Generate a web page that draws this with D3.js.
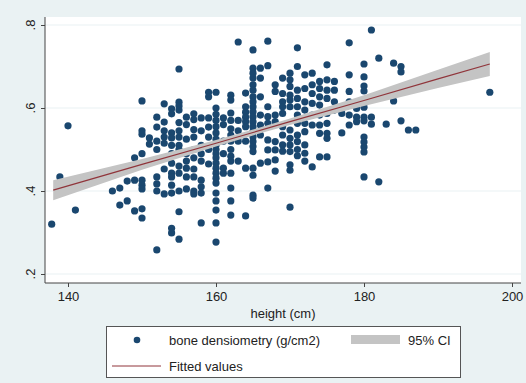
<!DOCTYPE html>
<html>
<head>
<meta charset="utf-8">
<script src="https://cdnjs.cloudflare.com/ajax/libs/d3/7.8.5/d3.min.js"></script>
<style>
body{margin:0;padding:0;background:#eaf2f3;}
text{font-family:"Liberation Sans", Arial, sans-serif;fill:#222;}
</style>
</head>
<body>
<div id="svg"></div>
<script>
// scatter columns: height (cm) and the bone densities read at that height
var heights = [137.8,138.9,140,141,146,147,148,149,150,151,152,153,154,155,156,157,158,159,160,
    161,162,163,164,165,166,167,168,169,170,171,172,173,174,175,176,177,178,179,180,181,182,183,
    184,185,186,187,197];
var densities = [
    [0.32],
    [0.434],
    [0.557],
    [0.354],
    [0.40],
    [0.407,0.366],
    [0.424,0.376],
    [0.48,0.426,0.352],
    [0.617,0.545,0.537,0.49,0.426,0.414,0.405,0.357,0.335],
    [0.528,0.513,0.47],
    [0.578,0.554,0.52,0.50,0.434,0.417,0.40,0.258],
    [0.61,0.566,0.545,0.53,0.515,0.453,0.393],
    [0.598,0.586,0.54,0.528,0.51,0.49,0.467,0.443,0.434,0.414,0.395,0.31,0.299],
    [0.694,0.614,0.605,0.595,0.565,0.545,0.53,0.51,0.50,0.46,0.443,0.40,0.35,0.284],
    [0.578,0.56,0.525,0.49,0.472,0.455,0.434,0.405],
    [0.586,0.572,0.548,0.53,0.50,0.48,0.453,0.434,0.40,0.393],
    [0.576,0.545,0.51,0.49,0.472,0.426,0.41,0.395,0.323],
    [0.638,0.627,0.576,0.554,0.53,0.50,0.465],
    [0.638,0.60,0.585,0.57,0.555,0.54,0.525,0.51,0.50,0.49,0.48,0.467,0.455,0.443,0.431,0.419,0.395,0.376,0.354,0.323,0.277],
    [0.576,0.56,0.52,0.49,0.455,0.443],
    [0.631,0.619,0.588,0.57,0.55,0.535,0.52,0.50,0.484,0.472,0.443,0.407,0.376,0.342],
    [0.759,0.57,0.545,0.52,0.472],
    [0.636,0.603,0.59,0.578,0.567,0.555,0.52,0.455,0.34],
    [0.74,0.696,0.684,0.672,0.656,0.643,0.627,0.615,0.603,0.591,0.579,0.567,0.555,0.543,0.531,0.519,0.507,0.495,0.455,0.438,0.39,0.383],
    [0.696,0.672,0.627,0.583,0.559,0.535,0.467],
    [0.761,0.702,0.603,0.579,0.563,0.523,0.499,0.47,0.407],
    [0.656,0.64,0.583,0.567,0.519,0.499,0.475,0.448],
    [0.672,0.635,0.615,0.603,0.587,0.555,0.535,0.511,0.496],
    [0.684,0.668,0.652,0.631,0.619,0.603,0.547,0.527,0.511,0.495,0.463,0.45,0.361],
    [0.745,0.70,0.643,0.623,0.603,0.583,0.563,0.535,0.519,0.50,0.485],
    [0.68,0.647,0.615,0.595,0.563,0.543,0.511,0.491,0.472],
    [0.684,0.656,0.635,0.611,0.583,0.559,0.458],
    [0.664,0.647,0.627,0.607,0.583,0.559,0.539,0.482],
    [0.704,0.668,0.643,0.623,0.587,0.563,0.539,0.527,0.482],
    [0.664,0.643,0.615,0.595],
    [0.587,0.54],
    [0.757,0.68,0.64,0.615,0.583,0.559],
    [0.599,0.578,0.567],
    [0.706,0.675,0.653,0.641,0.602,0.578,0.569,0.53,0.518,0.506,0.494,0.434],
    [0.788,0.578,0.561],
    [0.72,0.422],
    [0.561],
    [0.708,0.617],
    [0.70,0.687,0.569],
    [0.547],
    [0.547],
    [0.638]
];

// fitted line and 95% CI
var fitX = [138,150,160,165,170,180,190,197];
var fitY = [0.402,0.464,0.515,0.541,0.567,0.618,0.670,0.706];
var ciLow = [0.378,0.451,0.507,0.534,0.559,0.605,0.648,0.677];
var ciHigh = [0.426,0.477,0.523,0.548,0.575,0.631,0.692,0.735];

var xTicks = [140,160,180,200];
var yTicks = [0.2,0.4,0.6,0.8];
var yTickLabels = [".2",".4",".6",".8"];

var widthSVG = 526;
var heightSVG = 383;
var fontSize = 13;

var svg = d3.select("#svg")
    .append("svg")
    .attr("width", widthSVG)
    .attr("height", heightSVG);

svg.append("rect")
    .attr("width", widthSVG)
    .attr("height", heightSVG)
    .attr("fill", "#eaf2f3");

var plotL = 45, plotR = 521, plotT = 17, plotB = 283;

var x = d3.scaleLinear().domain([140,200]).range([68,512]);
var y = d3.scaleLinear().domain([0.2,0.8]).range([274,25]);

//plot region
svg.append("rect")
    .attr("x", plotL)
    .attr("y", plotT)
    .attr("width", plotR-plotL)
    .attr("height", plotB-plotT)
    .attr("fill", "white");

//grid lines
svg.append("g")
    .selectAll("line")
    .data(yTicks)
    .enter().append("line")
    .attr("x1", plotL)
    .attr("x2", plotR)
    .attr("y1", function(d){return y(d)})
    .attr("y2", function(d){return y(d)})
    .attr("stroke", "#eaf2f3")
    .attr("stroke-width", 1.2);

//points
var points = [];
for(var i=0; i<heights.length; i++){
    for(var j=0; j<densities[i].length; j++){
        points.push({h: heights[i], v: densities[i][j]});
    }
}

svg.append("g")
    .selectAll("circle")
    .data(points)
    .enter().append("circle")
    .attr("cx", function(d){return x(d.h)})
    .attr("cy", function(d){return y(d.v)})
    .attr("r", 3.6)
    .attr("fill", "#1a476f");

//ci band + fitted line
var band = fitX.map(function(d, i){return {h: d, lo: ciLow[i], hi: ciHigh[i], f: fitY[i]}});

svg.append("path")
    .datum(band)
    .attr("fill", "#c4c4c4")
    .attr("d", d3.area()
        .x(function(d){return x(d.h)})
        .y0(function(d){return y(d.lo)})
        .y1(function(d){return y(d.hi)}));

svg.append("path")
    .datum(band)
    .attr("fill", "none")
    .attr("stroke", "#90353b")
    .attr("stroke-width", 1.2)
    .attr("d", d3.line()
        .x(function(d){return x(d.h)})
        .y(function(d){return y(d.f)}));

//axes
var xAxis = svg.append("g")
    .attr("transform", "translate(0,"+plotB+")")
    .call(d3.axisBottom(x).tickValues(xTicks).tickSize(4).tickPadding(5).tickFormat(d3.format("d")));
xAxis.select(".domain").attr("d", "M"+plotL+",0H"+plotR).attr("stroke", "#444");
xAxis.selectAll(".tick line").attr("stroke", "#444");
xAxis.selectAll("text").attr("font-size", fontSize).attr("fill", "#222").attr("font-family", "Liberation Sans, Arial, sans-serif");

var yAxis = svg.append("g")
    .attr("transform", "translate("+plotL+",0)")
    .call(d3.axisLeft(y).tickValues(yTicks).tickSize(4).tickFormat(""));
yAxis.select(".domain").attr("d", "M0,"+plotT+"V"+plotB).attr("stroke", "#444");
yAxis.selectAll(".tick line").attr("stroke", "#444");

svg.append("g")
    .selectAll("text")
    .data(yTicks)
    .enter().append("text")
    .attr("transform", function(d){return "translate(35,"+y(d)+") rotate(-90)"})
    .attr("text-anchor", "middle")
    .attr("font-size", fontSize)
    .text(function(d, i){return yTickLabels[i]});

svg.append("text")
    .attr("x", 283)
    .attr("y", 318)
    .attr("text-anchor", "middle")
    .attr("font-size", fontSize)
    .text("height (cm)");

//legend
var legend = svg.append("g");
legend.append("rect")
    .attr("x", 106.5)
    .attr("y", 326.5)
    .attr("width", 354)
    .attr("height", 51)
    .attr("fill", "white")
    .attr("stroke", "#555");
legend.append("circle")
    .attr("cx", 137)
    .attr("cy", 340)
    .attr("r", 3.3)
    .attr("fill", "#1a476f");
legend.append("text")
    .attr("x", 169)
    .attr("y", 345)
    .attr("font-size", fontSize)
    .text("bone densiometry (g/cm2)");
legend.append("rect")
    .attr("x", 351)
    .attr("y", 335)
    .attr("width", 49)
    .attr("height", 9)
    .attr("fill", "#c4c4c4");
legend.append("text")
    .attr("x", 408)
    .attr("y", 345)
    .attr("font-size", fontSize)
    .text("95% CI");
legend.append("line")
    .attr("x1", 112)
    .attr("x2", 161)
    .attr("y1", 366)
    .attr("y2", 366)
    .attr("stroke", "#90353b")
    .attr("stroke-width", 1);
legend.append("text")
    .attr("x", 169)
    .attr("y", 371)
    .attr("font-size", fontSize)
    .text("Fitted values");
</script>
</body>
</html>
